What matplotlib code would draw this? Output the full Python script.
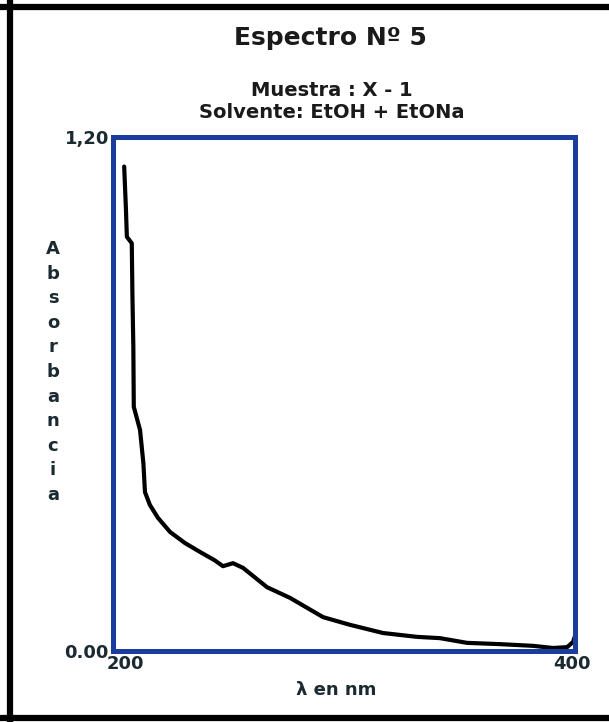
import matplotlib
matplotlib.use("Agg")
import matplotlib.pyplot as plt
from matplotlib.lines import Line2D

# Data
wavelength = [199.6, 200.4, 200.8, 203.0, 203.3, 203.7, 203.9, 206.7, 208.2, 208.9,
              211.1, 214.7, 220.1, 226.8, 233.6, 240.0, 243.8, 248.3, 252.8, 263.5,
              273.8, 288.6, 300.7, 315.4, 330.6, 340.9, 353.0, 367.8, 382.6, 391.5,
              397.8, 400.4, 401.3]
absorbance = [1.131, 1.030, 0.967, 0.952, 0.827, 0.710, 0.570, 0.516, 0.438, 0.371,
              0.341, 0.311, 0.278, 0.252, 0.231, 0.212, 0.198, 0.205, 0.194, 0.149,
              0.124, 0.079, 0.061, 0.042, 0.033, 0.030, 0.019, 0.016, 0.012, 0.007,
              0.009, 0.021, 0.035]
x_ticks = [200, 400]
x_tick_labels = ["200", "400"]
y_ticks = [0.0, 1.2]
y_tick_labels = ["0.00", "1,20"]

W, H = 609, 722
fig = plt.figure(figsize=(W / 100, H / 100), dpi=100)
fig.patch.set_facecolor("white")

def fx(px):
    return px / W

def fy(py):
    return 1 - py / H

# outer black frame (top, left, bottom)
for xs, ys in [([0, 1], [fy(7), fy(7)]),
               ([fx(10), fx(10)], [0, 1]),
               ([0, 1], [fy(718), fy(718)])]:
    fig.add_artist(Line2D(xs, ys, transform=fig.transFigure, color="black", lw=4.5))

left, right, top, bottom = 113, 575, 137, 651
ax = fig.add_axes([fx(left), fy(bottom), (right - left) / W, (bottom - top) / H])
ax.plot(wavelength, absorbance, color="black", lw=3, solid_joinstyle="round",
        solid_capstyle="round")
ax.set_xlim(194.6, 401.3)
ax.set_ylim(0, 1.2)
for s in ax.spines.values():
    s.set_color("#1a3c9c")
    s.set_linewidth(3.6)
ax.set_xticks(x_ticks)
ax.set_xticklabels(x_tick_labels, fontsize=13, fontweight="bold", color="#1a2a30")
ax.set_yticks(y_ticks)
ax.set_yticklabels(y_tick_labels, fontsize=13, fontweight="bold", color="#1a2a30")
ax.tick_params(length=0, pad=3)

fig.text(fx(330), fy(38), "Espectro Nº 5", ha="center", va="center",
         fontsize=18, fontweight="bold", color="#1a1a1a")
fig.text(fx(332), fy(90), "Muestra : X - 1", ha="center", va="center",
         fontsize=14, fontweight="bold", color="#1a1a1a")
fig.text(fx(332), fy(113), "Solvente: EtOH + EtONa", ha="center", va="center",
         fontsize=14, fontweight="bold", color="#1a1a1a")
fig.text(fx(53), fy(372), "\n".join("Absorbancia"), ha="center", va="center",
         fontsize=13, fontweight="bold", color="#1a2a30", linespacing=1.47,
         multialignment="center")
fig.text(fx(336), fy(690), "λ en nm", ha="center", va="center",
         fontsize=13, fontweight="bold", color="#1a2a30")

fig.savefig("out.png", dpi=100, facecolor="white")
